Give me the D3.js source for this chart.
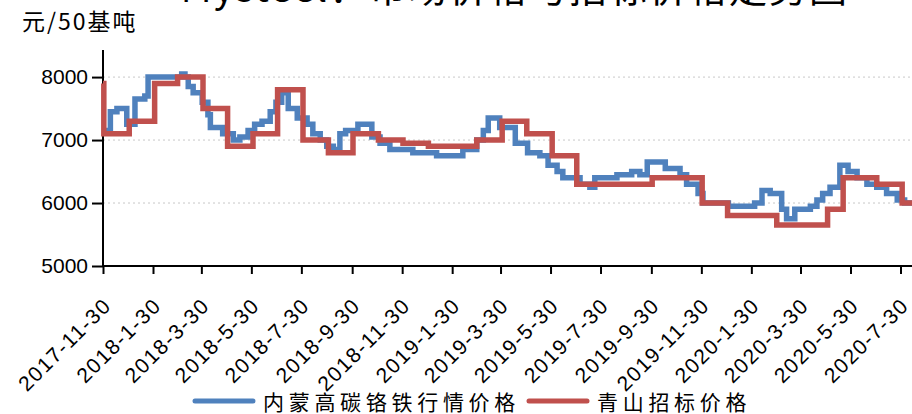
<!DOCTYPE html>
<html><head>
<meta charset="utf-8">
<script src="https://d3js.org/d3.v7.min.js"></script>
<style>
  body { margin: 0; background: #fff; }
  svg { display: block; }
  text { font-family: "Liberation Sans", Arial, sans-serif; }
  .cjk { font-family: "Noto Sans CJK SC", sans-serif; }
</style>
</head>
<body>
<svg id="chart" width="912" height="414"></svg>
<script>

// market price (blue) - step changes
const marketDates = ["2017-11-30","2017-12-09","2017-12-17","2017-12-29","2018-01-08","2018-01-20","2018-01-24",
  "2018-03-06","2018-03-10","2018-03-14","2018-03-20","2018-03-31","2018-04-07","2018-04-10","2018-04-25",
  "2018-05-08","2018-05-16","2018-05-26","2018-06-03","2018-06-12","2018-06-22","2018-06-29","2018-07-06",
  "2018-07-14","2018-07-25","2018-08-06","2018-08-13","2018-08-22","2018-08-30","2018-09-07","2018-09-15",
  "2018-09-22","2018-10-07","2018-10-24","2018-11-03","2018-11-15","2018-12-13","2019-01-11","2019-02-12",
  "2019-03-01","2019-03-09","2019-03-15","2019-03-29","2019-04-17","2019-05-02","2019-05-17","2019-05-27",
  "2019-06-07","2019-06-14","2019-07-05","2019-07-17","2019-07-23","2019-08-19","2019-09-06","2019-09-16",
  "2019-09-25","2019-10-17","2019-11-04","2019-11-12","2019-11-26","2019-12-02","2020-01-02","2020-02-03",
  "2020-02-12","2020-02-22","2020-03-07","2020-03-13","2020-03-23","2020-04-11","2020-04-19","2020-04-26",
  "2020-05-05","2020-05-17","2020-05-27","2020-06-07","2020-06-19","2020-07-01","2020-07-13","2020-07-26",
  "2020-08-04","2020-08-13"];
const marketValues = [7150,7450,7500,7250,7650,7700,8000,
  8050,8000,7850,7750,7600,7400,7200,7100,
  7000,7050,7150,7250,7300,7450,7600,7750,
  7500,7350,7250,7100,7000,6900,6850,7100,
  7150,7250,7050,6950,6850,6800,6750,6850,
  7000,7150,7350,7200,6950,6800,6750,6600,
  6500,6400,6300,6250,6400,6450,6500,6450,
  6650,6550,6450,6300,6150,6000,5950,6000,
  6200,6150,5900,5750,5900,5950,6050,6150,
  6250,6600,6500,6400,6300,6250,6150,6050,
  6000,6000];

// Qingshan tender price (red)
const tenderDates = ["2017-11-30","2017-12-01","2018-01-01","2018-02-01","2018-03-01","2018-04-01","2018-05-01",
  "2018-06-01","2018-07-01","2018-08-01","2018-09-01","2018-10-01","2018-11-01","2018-12-01","2019-01-01",
  "2019-03-01","2019-04-01","2019-05-01","2019-06-01","2019-07-01","2019-10-01","2019-12-01","2020-01-01",
  "2020-03-01","2020-05-02","2020-05-21","2020-07-01","2020-08-01","2020-08-13"];
const tenderValues = [7900,7100,7300,7900,8000,7500,6900,
  7100,7800,7000,6800,7100,7000,6950,6900,
  7000,7300,7100,6750,6300,6400,6000,5800,
  5650,5900,6400,6300,6000,6000];

const tickDates = ["2017-11-30","2018-01-30","2018-03-30","2018-05-30","2018-07-30","2018-09-30","2018-11-30",
  "2019-01-30","2019-03-30","2019-05-30","2019-07-30","2019-09-30","2019-11-30","2020-01-30","2020-03-30",
  "2020-05-30","2020-07-30"];
const tickLabels = ["2017-11-30","2018-1-30","2018-3-30","2018-5-30","2018-7-30","2018-9-30","2018-11-30",
  "2019-1-30","2019-3-30","2019-5-30","2019-7-30","2019-9-30","2019-11-30","2020-1-30","2020-3-30",
  "2020-5-30","2020-7-30"];
const yTicks = [5000, 6000, 7000, 8000];

const seriesNames = ["内蒙高碳铬铁行情价格", "青山招标价格"];
const seriesColors = ["#4f81bd", "#c0504d"];

const parse = d3.timeParse("%Y-%m-%d");
const svg = d3.select("#chart");

const x = d3.scaleTime()
  .domain([parse("2017-11-30"), parse("2020-08-13")])
  .range([103, 912]);
const y = d3.scaleLinear().domain([5000, 8430]).range([266, 50]);

// title (cut off at the top in the original)
svg.append("text").attr("class", "cjk")
  .attr("x", 515).attr("y", 2)
  .attr("text-anchor", "middle")
  .attr("font-size", 38).attr("letter-spacing", 2)
  .text("Mysteel：市场价格与招标价格走势图");

svg.append("text").attr("class", "cjk")
  .attr("x", 22).attr("y", 30)
  .attr("font-size", 23).attr("letter-spacing", 2)
  .text("元/50基吨");

// gridlines
svg.append("g").selectAll("line")
  .data(yTicks.filter(d => d > 5000))
  .join("line")
  .attr("x1", 103).attr("x2", 912)
  .attr("y1", d => y(d)).attr("y2", d => y(d))
  .attr("stroke", "#c8c8c8").attr("stroke-dasharray", "2,3");

// y axis
const yAxis = svg.append("g").attr("transform", "translate(103,0)")
  .call(d3.axisLeft(y).tickValues(yTicks).tickSize(11).tickPadding(4).tickFormat(d3.format("d")));
yAxis.select(".domain").attr("stroke", "#000").attr("stroke-width", 2).attr("d", "M0," + y.range()[1] + "V" + y.range()[0]);
yAxis.selectAll(".tick line").attr("stroke-width", 2);
yAxis.selectAll("text").attr("font-size", 21).attr("font-family", "Liberation Sans, Arial, sans-serif").attr("fill", "#000");

// x axis
const xAxis = svg.append("g").attr("transform", "translate(0,266)")
  .call(d3.axisBottom(x).tickValues(tickDates.map(parse)).tickSize(8)
    .tickFormat((d, i) => tickLabels[i]));
xAxis.select(".domain").attr("stroke", "#000").attr("stroke-width", 2).attr("d", "M103,0H912");
xAxis.selectAll(".tick line").attr("stroke-width", 2);
xAxis.selectAll("text")
  .attr("font-size", 21).attr("font-family", "Liberation Sans, Arial, sans-serif").attr("fill", "#000")
  .attr("letter-spacing", 1.5)
  .attr("text-anchor", "end")
  .attr("dy", 0).attr("y", 0)
  .attr("transform", "translate(9,41) rotate(-45)");

// lines
const line = d3.line().curve(d3.curveStepAfter)
  .x(d => x(d.date)).y(d => y(d.value));

const marketData = marketDates.map((d, i) => ({date: parse(d), value: marketValues[i]}));
const tenderData = tenderDates.map((d, i) => ({date: parse(d), value: tenderValues[i]}));

svg.append("path").datum(marketData)
  .attr("d", line).attr("fill", "none")
  .attr("stroke", seriesColors[0]).attr("stroke-width", 5.5);
svg.append("path").datum(tenderData)
  .attr("d", line).attr("fill", "none")
  .attr("stroke", seriesColors[1]).attr("stroke-width", 5.5);

// legend
const legend = svg.append("g");
const legendX = [195, 529];
seriesNames.forEach((name, i) => {
  legend.append("line")
    .attr("x1", legendX[i]).attr("x2", legendX[i] + 58)
    .attr("y1", 401).attr("y2", 401)
    .attr("stroke", seriesColors[i]).attr("stroke-width", 5).attr("stroke-linecap", "round");
  legend.append("text").attr("class", "cjk")
    .attr("x", legendX[i] + 68).attr("y", 410)
    .attr("font-size", 21).attr("letter-spacing", 4.7)
    .text(name);
});

</script>
</body></html>
